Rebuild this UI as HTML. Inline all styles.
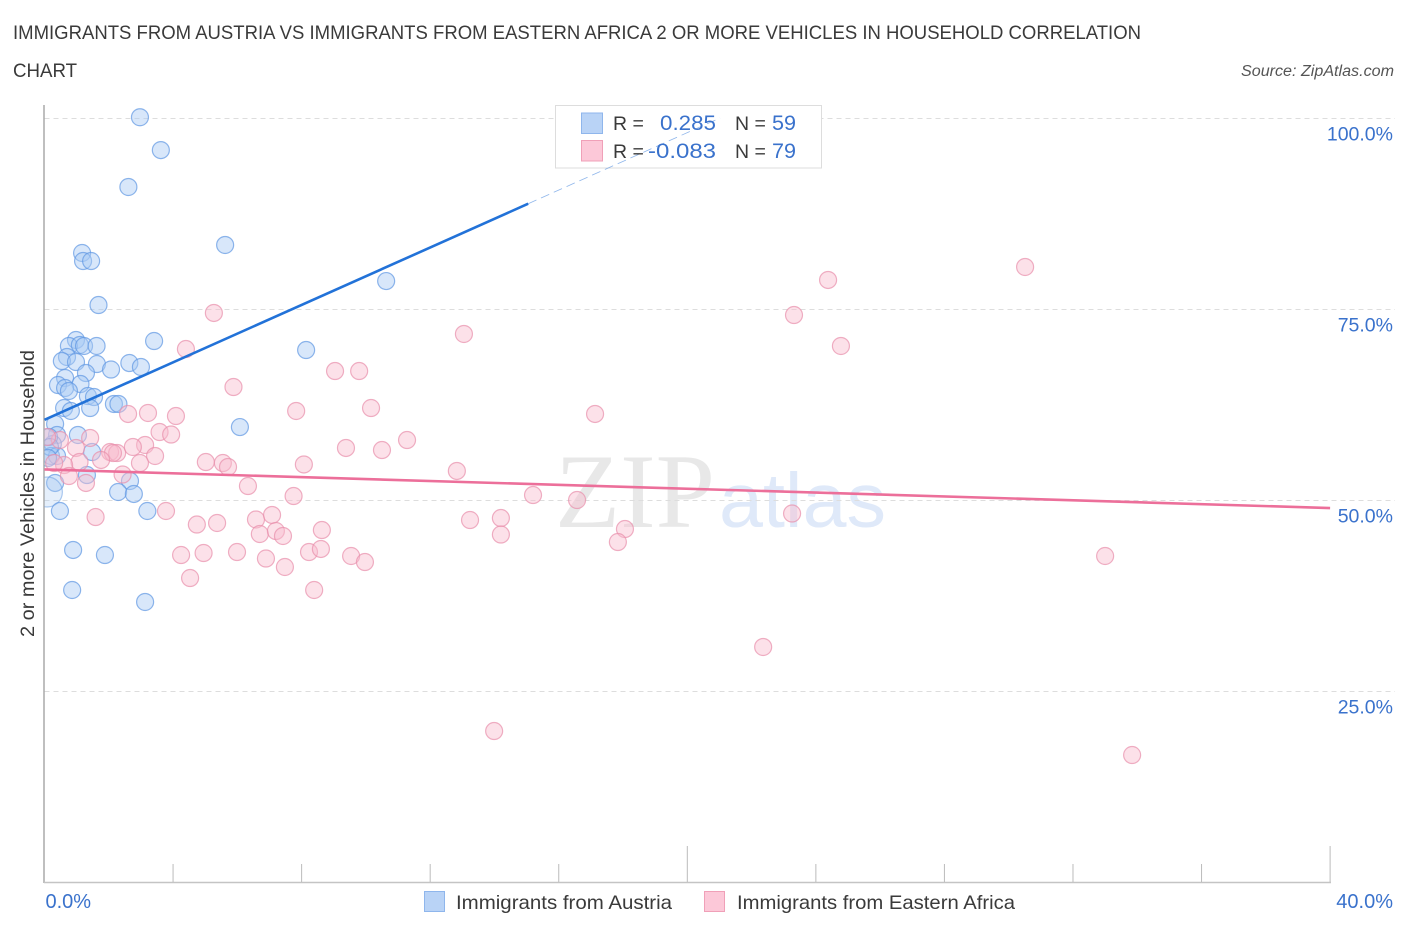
<!DOCTYPE html>
<html lang="en">
<head>
<meta charset="utf-8">
<title>Immigrants from Austria vs Immigrants from Eastern Africa 2 or more Vehicles in Household Correlation Chart</title>
<style>
html,body{margin:0;padding:0;background:#fff;}
body{width:1406px;height:930px;overflow:hidden;}
svg{display:block;}
text{font-family:"Liberation Sans",sans-serif;}
</style>
</head>
<body>
<svg id="chart" width="1406" height="930" viewBox="0 0 1406 930" xmlns="http://www.w3.org/2000/svg">
  <defs>
    <clipPath id="plot-clip"><rect x="44.5" y="100" width="1360" height="782"></rect></clipPath>
  </defs>
  <rect x="0" y="0" width="1406" height="930" fill="#ffffff"></rect>

  <text x="13" y="39" font-size="19.5" fill="#3a3a3a" textLength="1128" lengthAdjust="spacingAndGlyphs">IMMIGRANTS FROM AUSTRIA VS IMMIGRANTS FROM EASTERN AFRICA 2 OR MORE VEHICLES IN HOUSEHOLD CORRELATION</text>
  <text x="13" y="77" font-size="19.5" fill="#3a3a3a" textLength="64" lengthAdjust="spacingAndGlyphs">CHART</text>
  <text x="1241" y="76" font-size="15.5" font-style="italic" fill="#555555" textLength="153" lengthAdjust="spacingAndGlyphs">Source: ZipAtlas.com</text>

  <text x="555" y="527" font-size="106" fill="#e8e8e8" style="font-family:'Liberation Serif',serif" textLength="160" lengthAdjust="spacingAndGlyphs">ZIP</text>
  <text x="719" y="527" font-size="77" fill="#dfe9f9" style="font-family:'Liberation Sans',sans-serif" textLength="167" lengthAdjust="spacingAndGlyphs">atlas</text>

  <g id="grid-layer"></g>
  <g id="axis-layer"></g>
  <g id="point-layer-austria" clip-path="url(#plot-clip)"></g>
  <g id="point-layer-africa" clip-path="url(#plot-clip)"></g>
  <rect x="555.5" y="105.5" width="266" height="62.5" fill="#ffffff" stroke="#dddddd" stroke-width="1"></rect>
  <g id="line-layer"></g>

  <text x="0" y="0" font-size="19" fill="#3a3a3a" transform="translate(34,637) rotate(-90)" textLength="287" lengthAdjust="spacingAndGlyphs">2 or more Vehicles in Household</text>

  <g>
    <rect x="581.5" y="113" width="21" height="20.5" fill="#b9d3f6" stroke="#8fb6ec" stroke-width="1"></rect>
    <rect x="581.5" y="140.5" width="21" height="20.5" fill="#fcc8d8" stroke="#f0a0b8" stroke-width="1"></rect>
    <text x="613" y="130" font-size="19.5" fill="#3a3a3a">R =</text>
    <text x="660" y="130" font-size="21" fill="#3a72cc" textLength="56" lengthAdjust="spacingAndGlyphs">0.285</text>
    <text x="735" y="130" font-size="19.5" fill="#3a3a3a">N =</text>
    <text x="772" y="130" font-size="21" fill="#3a72cc" textLength="24" lengthAdjust="spacingAndGlyphs">59</text>
    <text x="613" y="158" font-size="19.5" fill="#3a3a3a">R =</text>
    <text x="648" y="158" font-size="21" fill="#3a72cc" textLength="68" lengthAdjust="spacingAndGlyphs">-0.083</text>
    <text x="735" y="158" font-size="19.5" fill="#3a3a3a">N =</text>
    <text x="772" y="158" font-size="21" fill="#3a72cc" textLength="24" lengthAdjust="spacingAndGlyphs">79</text>
  </g>

  <g>
    <g>
      <rect x="424.5" y="891.5" width="20" height="20" fill="#b9d3f6" stroke="#8fb6ec" stroke-width="1"></rect>
      <text x="456" y="909" font-size="19.5" fill="#3a3a3a" textLength="216" lengthAdjust="spacingAndGlyphs">Immigrants from Austria</text>
    </g>
    <g>
      <rect x="704.5" y="891.5" width="20" height="20" fill="#fcc8d8" stroke="#f0a0b8" stroke-width="1"></rect>
      <text x="737" y="909" font-size="19.5" fill="#3a3a3a" textLength="278" lengthAdjust="spacingAndGlyphs">Immigrants from Eastern Africa</text>
    </g>
  </g>
</svg>
<script>
const yTickValues = [100, 75, 50, 25];
const yTickLabels = ["100.0%", "75.0%", "50.0%", "25.0%"];
const xTickValues = [4, 8, 12, 16, 20, 24, 28, 32, 36, 40];
const xMajorTicks = [20, 40];
const xEdgeValues = [0, 40];
const xEdgeLabels = ["0.0%", "40.0%"];

const austriaX = [2.97,3.62,2.61,5.62,1.17,1.20,1.45,1.68,10.63,8.14,3.41,0.98,0.76,1.10,1.23,1.62,0.70,0.54,0.98,1.63,2.07,2.64,3.00,1.29,0.64,0.42,1.12,0.64,0.76,1.35,1.54,0.61,0.82,1.42,2.16,2.30,6.08,0.33,0.39,1.04,0.26,1.48,0.20,0.39,1.32,2.66,0.33,2.29,2.78,0.09,0.48,3.20,0.89,1.88,0.86,3.13,0.14,0.17,0.11];
const austriaY = [100.1,95.8,90.97,83.38,82.33,81.28,81.28,75.52,78.66,69.63,70.81,70.94,70.16,70.29,70.16,70.16,68.72,68.19,68.06,67.80,67.08,67.93,67.41,66.62,65.97,65.05,65.18,64.66,64.27,63.61,63.48,62.04,61.65,62.04,62.57,62.57,59.55,59.95,58.51,58.51,57.33,56.28,55.76,55.76,53.27,52.49,52.23,51.05,50.79,51.05,48.56,48.56,43.46,42.80,38.22,36.65,58.25,56.94,55.50];

const africaX = [13.05,5.27,4.40,5.88,7.83,9.04,9.79,10.16,2.60,3.22,4.09,3.58,3.94,1.42,3.13,0.98,2.04,2.26,2.13,2.75,3.44,1.76,1.09,2.97,2.43,0.61,0.76,1.29,0.48,0.08,0.30,1.59,3.78,4.74,5.37,4.25,4.95,4.53,5.99,6.33,5.02,5.55,5.71,8.07,7.75,6.58,7.08,6.70,7.20,7.42,6.89,7.48,8.23,8.60,8.63,8.39,9.54,9.97,9.38,10.50,11.28,12.83,13.24,14.20,14.20,15.20,16.57,17.13,18.06,17.84,23.26,22.36,13.99,23.32,24.38,24.78,30.51,33.00,33.84];
const africaY = [71.73,74.48,69.76,64.79,61.65,66.88,66.88,62.04,61.26,61.39,60.99,58.90,58.57,58.12,57.20,56.81,56.28,56.15,56.15,56.94,55.76,55.24,54.97,54.84,53.34,54.58,53.14,52.23,57.85,58.25,54.84,47.77,48.56,46.79,46.99,42.80,43.06,39.79,43.19,51.83,54.97,54.84,54.32,54.65,50.52,47.45,48.04,45.55,45.94,45.29,42.34,41.23,43.19,43.59,46.07,38.22,42.67,41.88,56.81,56.54,57.85,53.80,47.38,47.64,45.48,50.65,50.00,61.26,46.20,44.50,48.23,30.76,19.76,74.21,78.80,70.16,80.50,42.67,16.62];

const austriaTrendX = [0, 15.05, 21.02];
const austriaTrendY = [60.5, 88.78, 100];
const africaTrendX = [0, 40];
const africaTrendY = [54.0, 48.95];

const largeAustriaPoint = 49;

const SVG_NS = "http://www.w3.org/2000/svg";
function xScale(v) { return 44.5 + v * 32.14; }
function yScale(v) { return 882 - v * 7.64; }
function make(tag, attrs, parent) {
  const el = document.createElementNS(SVG_NS, tag);
  for (const k in attrs) el.setAttribute(k, attrs[k]);
  parent.appendChild(el);
  return el;
}

const gridLayer = document.getElementById("grid-layer");
const axisLayer = document.getElementById("axis-layer");
const austriaLayer = document.getElementById("point-layer-austria");
const africaLayer = document.getElementById("point-layer-africa");
const lineLayer = document.getElementById("line-layer");

yTickValues.forEach(function (v, i) {
  const gy = Math.floor(yScale(v)) + 0.5;
  const line = make("line", {x1: 44.5, x2: 1395, y1: gy, y2: gy, stroke: "#dddddd", "stroke-width": 1, "stroke-dasharray": "5 4"}, gridLayer);
  
  
  const label = make("text", {x: 1393, y: yScale(v) + 22.5, "font-size": 19.5, fill: "#3a72cc", "text-anchor": "end"}, axisLayer);
  
  
  label.textContent = yTickLabels[i];
});

const yAxisLine = make("line", {x1: 44, x2: 44, y1: 105, y2: 883, stroke: "#aaaaaa", "stroke-width": 1.5}, axisLayer);


const xAxisLine = make("line", {x1: 44, x2: 1331, y1: 882.5, y2: 882.5, stroke: "#c4c4c4", "stroke-width": 1.5}, axisLayer);



xTickValues.forEach(function (v) {
  const isMajor = xMajorTicks.indexOf(v) >= 0;
  const tick = make("line", {x1: xScale(v), x2: xScale(v), y1: isMajor ? 846 : 864, y2: 882, stroke: "#bbbbbb", "stroke-width": 1}, axisLayer);
  
  
});

xEdgeValues.forEach(function (v, i) {
  const label = make("text", {x: i === 0 ? xScale(v) + 1 : 1393, y: 908, "font-size": 20, fill: "#3a72cc", "text-anchor": i === 0 ? "start" : "end"}, axisLayer);
  
  
  label.textContent = xEdgeLabels[i];
});

austriaX.forEach(function (v, i) {
  const dot = make("circle", {cx: xScale(v), cy: yScale(austriaY[i]), r: i === largeAustriaPoint ? 15 : 8.5, fill: "#a9c9f3", "fill-opacity": i === largeAustriaPoint ? 0.3 : 0.45, stroke: "#5f97e2", "stroke-opacity": i === largeAustriaPoint ? 0.5 : 0.7, "stroke-width": 1.2}, austriaLayer);
  
  
});

africaX.forEach(function (v, i) {
  const dot = make("circle", {cx: xScale(v), cy: yScale(africaY[i]), r: 8.5, fill: "#f8bccf", "fill-opacity": 0.45, stroke: "#e88fab", "stroke-opacity": 0.7, "stroke-width": 1.2}, africaLayer);
  
  
});

const austriaSolid = make("line", {x1: xScale(austriaTrendX[0]), y1: yScale(austriaTrendY[0]), x2: xScale(austriaTrendX[1]), y2: yScale(austriaTrendY[1]), stroke: "#2272d8", "stroke-width": 2.6}, lineLayer);


const austriaDashed = make("line", {x1: xScale(austriaTrendX[1]), y1: yScale(austriaTrendY[1]), x2: xScale(austriaTrendX[2]), y2: yScale(austriaTrendY[2]), stroke: "#5f97e2", "stroke-width": 0.8, "stroke-opacity": 0.7, "stroke-dasharray": "9 5"}, lineLayer);


const africaSolid = make("line", {x1: xScale(africaTrendX[0]), y1: yScale(africaTrendY[0]), x2: xScale(africaTrendX[1]), y2: yScale(africaTrendY[1]), stroke: "#ec6f9a", "stroke-width": 2.6}, lineLayer);


</script>
</body>
</html>
